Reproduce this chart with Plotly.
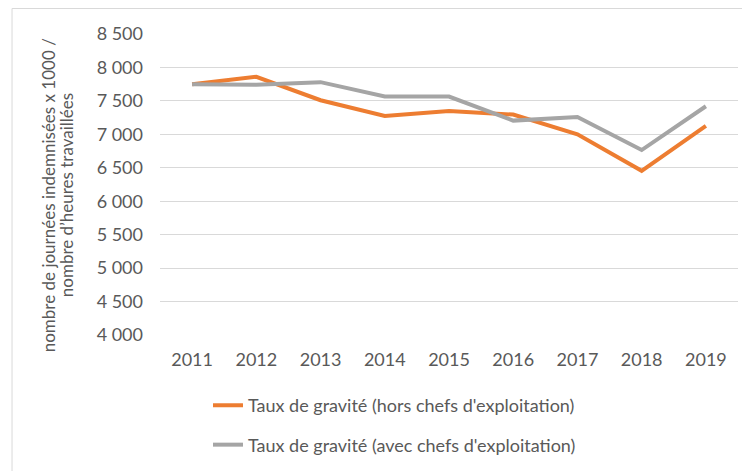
import plotly.graph_objects as go

annees = ['2011', '2012', '2013', '2014', '2015', '2016', '2017', '2018', '2019']
hors_chefs = [7750, 7860, 7510, 7275, 7350, 7295, 7000, 6455, 7125]
avec_chefs = [7750, 7740, 7780, 7565, 7565, 7205, 7260, 6765, 7420]

titre_y = ["nombre de journées indemnisées x 1000 /", "nombre d’heures travaillées"]

gris_texte = '#595959'

fig = go.Figure()
fig.add_trace(go.Scatter(x=annees, y=hors_chefs, mode='lines',
                         name="Taux de gravité (hors chefs d'exploitation)",
                         line=dict(color='#ED7D31', width=4),
                         legendgroup='a'))
fig.add_trace(go.Scatter(x=annees, y=avec_chefs, mode='lines',
                         name="Taux de gravité (avec chefs d'exploitation)",
                         line=dict(color='#A5A5A5', width=4),
                         legendgroup='b'))

# titre de l'axe y en deux annotations (interligne plus serré)
for i, ligne in enumerate(titre_y):
    fig.add_annotation(text=ligne, textangle=-90, xref='paper', yref='paper',
                       x=-0.215 + i * 0.031, y=0.465, showarrow=False,
                       font=dict(size=17, color=gris_texte))

fig.update_layout(
    width=742, height=463,
    margin=dict(l=152, r=12, t=26, b=136),
    plot_bgcolor='white', paper_bgcolor='white',
    font=dict(family='Lato', size=18, color=gris_texte),
    separators=', ',
    showlegend=True,
    legend=dict(x=0.083, y=0.1813, xanchor='left', yanchor='top',
                yref='container',
                traceorder='grouped', tracegroupgap=13,
                font=dict(size=18, color=gris_texte)),
    xaxis=dict(type='category', range=[-0.5, 8.5], showgrid=False,
               showline=False, zeroline=False, ticks='',
               ticklabelstandoff=12),
    yaxis=dict(range=[4000, 8500], dtick=500, tickformat=',d',
               showgrid=True, gridcolor='#D9D9D9', gridwidth=1,
               zeroline=False, showline=False, ticks='',
               ticklabelstandoff=16),
    shapes=[dict(type='rect', xref='paper', yref='paper',
                 x0=-0.256, x1=2, y0=-2, y1=1.0847,
                 line=dict(color='#D9D9D9', width=1), layer='below')],
)

fig.write_html('out.html')
